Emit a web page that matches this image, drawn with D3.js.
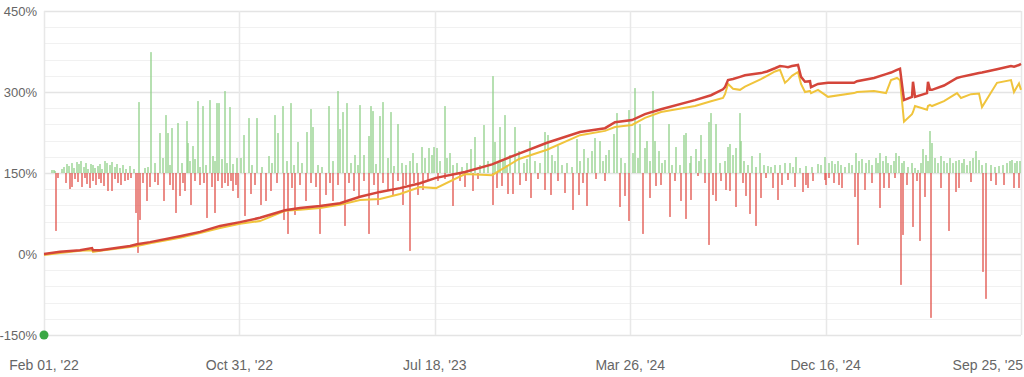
<!DOCTYPE html>
<html>
<head>
<meta charset="utf-8">
<script src="https://cdn.jsdelivr.net/npm/d3@7"></script>
<style>
    body { margin: 0; background: #fff; }
    svg { display: block; font-family: "Liberation Sans", Arial, sans-serif; }
</style>
</head>
<body>
<svg id="chart"></svg>
<script>
// x is the trade number, 0 .. 977
const tradeCount = 977;
const xTickLabels = ["Feb 01, '22", "Oct 31, '22", "Jul 18, '23", "Mar 26, '24", "Dec 16, '24", "Sep 25, '25"];
const yTicks = [-150, 0, 150, 300, 450];

// growth lines
const lineIdx = [0, 16, 36, 48, 49, 56, 86, 93, 106, 136, 156, 176, 196, 216, 241, 256, 276, 296, 316, 336,
    356, 376, 392, 421, 448, 475, 503, 536, 561, 571, 588, 601, 617, 651, 667, 679, 681, 684, 689, 696, 701, 717, 723, 731, 736,
    741, 744, 748, 754, 757, 761, 766, 767, 774, 784, 810, 813, 830, 842, 847, 853, 856, 860, 868, 869, 871, 883,
    884, 886, 888, 900, 913, 917, 927, 935, 938, 953, 967, 970, 975, 977];
const balance = [0, 4, 7, 11, 7, 7, 15, 18, 22, 33, 41, 52, 59, 67, 81, 85, 89, 94, 106, 115,
    122, 131, 141, 152, 166, 186, 206, 226, 233, 244, 248, 259, 268, 285, 294, 305, 309, 322, 324, 328, 331, 335, 338, 344, 348,
    347, 346, 348, 350, 328, 319, 320, 309, 315, 317, 317, 320, 326, 333, 336, 341, 343, 285, 291, 319, 291, 298,
    319, 304, 304, 312, 326, 328, 332, 335, 336, 342, 348, 347, 350, 352];
const equity = [-2, 2, 6, 7, 4, 6, 13, 15, 20, 30, 39, 48, 56, 61, 80, 82, 85, 91, 100, 102,
    111, 124, 122, 148, 146, 176, 193, 220, 228, 235, 239, 252, 263, 274, 283, 289, 296, 315, 306, 304, 310, 324, 330, 338, 341,
    317, 322, 330, 337, 315, 300, 302, 298, 304, 291, 298, 300, 302, 298, 322, 326, 322, 245, 259, 263, 274, 267,
    274, 276, 274, 283, 298, 289, 296, 297, 272, 317, 322, 300, 316, 304];

// per-trade result, [trade, result]
const wins = [
    [8, 3], [10, 3], [11, 2], [18, 4], [20, 6], [23, 9], [25, 7], [28, 10], [30, 5], [33, 11], [35, 9], [37, 12],
    [40, 6], [42, 10], [44, 4], [47, 9], [49, 8], [51, 5], [54, 7], [56, 9], [58, 4], [61, 12], [63, 10], [66, 8],
    [68, 11], [71, 6], [73, 9], [76, 5], [79, 8], [82, 4], [86, 7], [90, 4],
    [95, 71], [101, 5], [104, 6], [107, 121], [111, 10], [116, 40], [119, 15], [122, 58], [124, 40], [126, 8],
    [128, 45], [134, 50], [138, 10], [143, 52], [144, 30], [146, 12], [149, 27], [151, 14], [154, 72], [156, 6],
    [159, 67], [162, 8], [166, 73], [169, 17], [171, 12], [173, 70], [175, 70], [178, 14], [181, 82], [183, 10],
    [186, 66], [189, 9], [193, 15],
    [197, 15], [200, 38], [205, 55], [208, 8], [213, 55], [218, 6], [225, 17], [228, 10], [231, 58], [234, 40],
    [239, 67], [243, 12], [247, 70], [250, 8], [254, 31], [258, 10], [263, 41], [267, 64], [269, 46], [274, 8],
    [278, 6], [285, 67], [289, 12], [294, 82], [296, 44], [299, 61], [303, 70], [307, 10], [311, 18], [314, 8],
    [316, 68], [320, 18], [325, 37], [327, 67], [329, 62], [332, 9], [336, 57], [339, 71], [344, 15], [347, 61],
    [350, 7], [354, 49], [358, 10], [362, 8], [366, 12], [369, 20], [373, 10], [378, 26], [381, 15], [385, 25], [388, 18],
    [390, 26], [393, 25], [396, 12], [401, 67], [403, 15], [406, 20], [409, 8], [413, 10], [418, 6], [423, 10],
    [427, 24], [431, 36], [436, 8], [440, 48], [444, 12], [449, 97], [451, 31], [454, 10], [456, 46], [459, 14],
    [461, 58], [463, 8], [466, 18], [471, 46], [475, 22], [480, 10], [483, 14], [486, 32], [491, 12], [496, 10],
    [501, 41], [504, 38], [508, 18], [511, 12], [514, 27], [518, 8], [523, 10], [528, 6], [533, 34], [536, 12],
    [540, 24], [544, 15], [548, 22], [551, 35], [556, 32], [559, 12], [562, 18], [565, 23], [570, 39], [573, 60],
    [577, 15], [581, 10], [585, 63],
    [589, 20], [591, 85], [594, 15], [596, 49], [601, 25], [603, 32], [606, 12], [609, 82], [611, 32], [615, 22],
    [618, 10], [621, 13], [625, 49], [628, 8], [632, 26], [636, 8], [640, 38], [642, 40], [646, 10], [647, 17],
    [652, 24], [655, 12], [657, 38], [661, 14], [665, 51], [667, 60], [672, 49], [676, 10], [681, 12], [684, 26],
    [686, 29], [689, 18], [692, 25], [696, 60], [697, 32], [700, 12], [704, 8], [708, 17], [712, 6], [716, 20],
    [720, 8], [724, 7], [727, 6], [731, 8], [736, 8], [741, 10], [746, 10], [749, 6], [752, 16], [756, 5],
    [762, 7], [768, 6], [774, 9], [777, 8], [781, 16],
    [785, 10], [788, 12], [791, 9], [794, 12], [797, 8], [801, 6], [805, 10], [808, 8], [812, 20], [815, 12],
    [818, 14], [822, 10], [825, 13], [828, 8], [832, 15], [834, 10], [836, 20], [839, 12], [842, 17], [844, 10],
    [847, 8], [850, 12], [852, 20], [855, 17], [858, 10], [860, 12], [864, 6], [868, 10], [871, 5], [874, 3],
    [877, 10], [879, 24], [882, 18], [884, 12], [886, 42], [888, 30], [891, 15], [894, 10], [897, 17], [900, 12],
    [903, 10], [906, 15], [909, 10], [912, 12], [915, 13], [918, 10], [920, 14], [923, 8], [926, 12], [929, 15],
    [932, 22], [935, 13], [938, 8], [942, 10], [947, 8], [951, 6], [955, 7], [959, 8], [963, 10], [966, 12],
    [968, 13], [971, 10], [973, 12], [976, 12]
];
const losses = [
    [12, -58], [14, -5], [22, -10], [26, -16], [28, -14], [31, -6], [34, -9], [38, -14], [41, -5], [43, -11],
    [46, -15], [49, -8], [52, -12], [55, -6], [57, -10], [60, -13], [64, -18], [68, -18], [71, -6], [74, -10],
    [77, -12], [81, -8], [84, -7], [87, -5],
    [92, -40], [94, -80], [96, -47], [99, -10], [103, -28], [106, -14], [111, -9], [114, -12], [120, -28], [126, -12],
    [129, -17], [132, -40], [136, -23], [139, -10], [141, -18], [147, -32], [151, -8], [156, -12], [160, -10],
    [163, -45], [168, -14], [171, -40], [174, -8], [178, -15], [181, -10], [184, -13], [187, -8], [189, -18], [192, -12],
    [194, -25], [201, -43], [207, -21], [211, -12], [217, -32], [222, -28], [227, -18], [233, -10], [240, -47],
    [244, -61], [248, -15], [251, -42], [256, -12], [262, -28], [267, -10], [272, -14], [276, -61], [282, -22],
    [286, -10], [289, -28], [294, -12], [301, -53], [305, -10], [310, -18], [315, -25], [320, -8], [325, -61],
    [330, -12], [334, -32], [339, -10], [344, -18], [349, -22], [354, -8], [359, -32], [362, -12], [366, -78],
    [370, -10], [374, -22], [379, -17], [384, -8],
    [394, -8], [401, -6], [409, -33], [416, -8], [421, -14], [429, -18], [434, -6], [449, -32], [453, -15],
    [458, -13], [464, -21], [469, -21], [476, -12], [482, -8], [487, -25], [494, -6], [501, -17], [507, -22],
    [514, -8], [521, -20], [529, -37], [535, -22], [539, -10], [543, -33], [552, -6], [561, -8], [576, -34],
    [581, -23], [585, -48],
    [599, -61], [606, -25], [612, -13], [617, -12], [626, -44], [631, -8], [637, -28], [642, -46], [647, -27],
    [654, -3], [661, -10], [665, -72], [669, -22], [672, -28], [677, -8], [682, -17], [686, -18], [692, -34],
    [699, -10], [702, -23], [706, -41], [712, -53], [717, -25], [722, -5], [729, -15], [734, -27], [738, -12],
    [744, -7], [751, -14], [759, -19], [762, -12], [764, -15], [769, -8], [781, -7],
    [782, -12], [785, -5], [790, -10], [795, -12], [798, -15], [811, -24], [814, -72], [821, -17], [828, -10],
    [836, -35], [840, -15], [845, -15], [851, -5], [857, -112], [859, -62], [863, -12], [869, -54], [873, -8],
    [876, -68], [881, -24], [887, -145], [897, -15], [905, -58], [912, -19], [915, -15], [927, -9], [939, -99],
    [942, -126], [947, -8], [952, -12], [960, -12], [970, -15], [975, -15]
];
const barBase = 150;

function drawChart() {
    const width = 1024;
    const height = 377;
    const padding = { top: 11, right: 3, bottom: 42, left: 44 };

    const svg = d3.select('#chart')
        .attr('width', width)
        .attr('height', height);

    const x = d3.scaleLinear()
        .domain([0, tradeCount])
        .range([padding.left, width - padding.right]);
    const y = d3.scaleLinear()
        .domain([-150, 450])
        .range([height - padding.bottom, padding.top]);
    // trade results have their own scale, drawn around the 150% line
    const barY = d3.scaleLinear()
        .domain([-100, 100])
        .range([y(barBase - 185), y(barBase + 185)]);

    // minor gridlines every 30%
    svg.append('g')
        .selectAll('line')
        .data(d3.range(-150, 451, 30))
        .enter().append('line')
        .attr('x1', padding.left)
        .attr('x2', width - padding.right)
        .attr('y1', d => Math.round(y(d)) + 0.5)
        .attr('y2', d => Math.round(y(d)) + 0.5)
        .attr('stroke', d => yTicks.includes(d) ? '#e4e4e4' : '#f1f1f1')
        .attr('stroke-width', d => yTicks.includes(d) ? 1.5 : 1);

    // vertical gridlines at the date ticks
    const tickPos = xTickLabels.map((t, i) => i * tradeCount / (xTickLabels.length - 1));
    svg.append('g')
        .selectAll('line')
        .data(tickPos)
        .enter().append('line')
        .attr('x1', d => Math.round(x(d)) + 0.5)
        .attr('x2', d => Math.round(x(d)) + 0.5)
        .attr('y1', padding.top)
        .attr('y2', y(-150))
        .attr('stroke', '#e8e8e8')
        .attr('stroke-width', 1.5);

    // y labels
    svg.append('g')
        .selectAll('text')
        .data(yTicks)
        .enter().append('text')
        .attr('x', padding.left - 7)
        .attr('y', d => y(d))
        .attr('dy', '0.35em')
        .attr('text-anchor', 'end')
        .style('font-size', '13px')
        .attr('fill', '#666')
        .text(d => d + '%');

    // x labels, last one pulled inside the frame
    svg.append('g')
        .selectAll('text')
        .data(xTickLabels)
        .enter().append('text')
        .attr('x', (d, i) => i === xTickLabels.length - 1 ? width - 1 : x(tickPos[i]))
        .attr('y', height - 7)
        .attr('text-anchor', (d, i) => i === xTickLabels.length - 1 ? 'end' : 'middle')
        .style('font-size', '14px')
        .attr('fill', '#666')
        .text(d => d);

    // trade bars
    svg.append('g')
        .selectAll('rect')
        .data(wins)
        .enter().append('rect')
        .attr('x', d => x(d[0]) - 0.75)
        .attr('width', 1.5)
        .attr('y', d => barY(d[1]))
        .attr('height', d => barY(0) - barY(d[1]))
        .attr('fill', '#93d18d')
        .attr('fill-opacity', 0.9);

    svg.append('g')
        .selectAll('rect')
        .data(losses)
        .enter().append('rect')
        .attr('x', d => x(d[0]) - 0.75)
        .attr('width', 1.5)
        .attr('y', barY(0))
        .attr('height', d => barY(d[1]) - barY(0))
        .attr('fill', '#e2554f')
        .attr('fill-opacity', 0.9);

    // growth lines
    const growthLine = d3.line()
        .x((d, i) => x(lineIdx[i]))
        .y(d => y(d));

    svg.append('path')
        .datum(equity)
        .attr('d', growthLine)
        .attr('fill', 'none')
        .attr('stroke', '#f0c43c')
        .attr('stroke-width', 2);

    svg.append('path')
        .datum(balance)
        .attr('d', growthLine)
        .attr('fill', 'none')
        .attr('stroke', '#d4453a')
        .attr('stroke-width', 2.5);

    // start marker
    svg.append('circle')
        .attr('cx', x(0))
        .attr('cy', y(-150))
        .attr('r', 4.5)
        .attr('fill', '#3aa845');
}

window.addEventListener('load', drawChart);
</script>
</body>
</html>
